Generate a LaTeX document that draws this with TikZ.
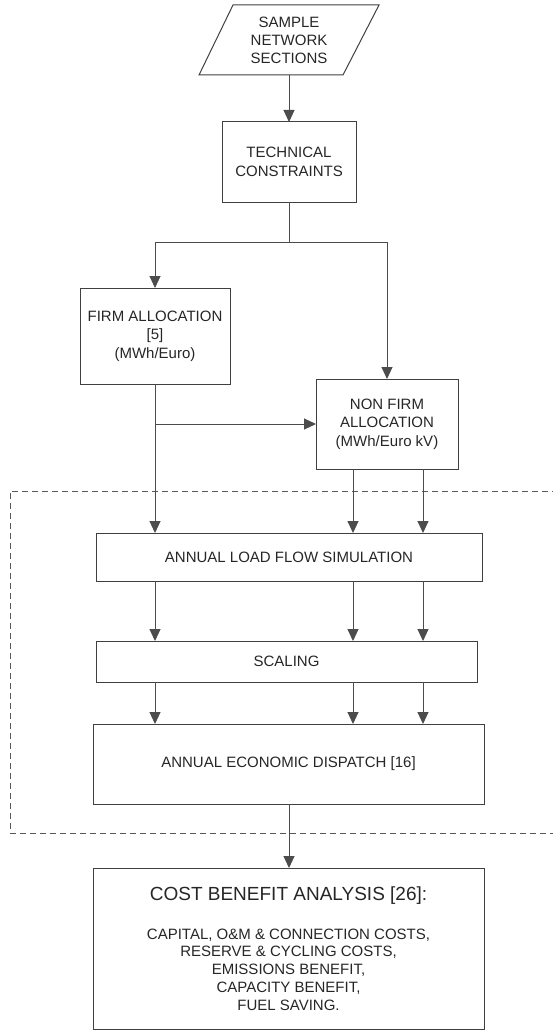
\documentclass[tikz,border=0pt]{standalone}
\usepackage{fontspec}
\setmainfont{Liberation Sans}
\usetikzlibrary{arrows.meta}
\begin{document}
\begin{tikzpicture}[x=1pt,y=-1pt,
  box/.style={draw=black!75, line width=1pt, rectangle, inner sep=0pt, outer sep=0pt,
    align=center, text=black!85, font=\fontsize{15}{18.5}\selectfont},
  plain/.style={rectangle, inner sep=0pt, outer sep=0pt, align=center, text=black!85,
    font=\fontsize{15}{18}\selectfont},
  conn/.style={draw=black!70, line width=1pt},
  arr/.style={conn, -{Triangle[length=12pt,width=11pt]}},
  frame/.style={draw=black!65, line width=1pt, dash pattern=on 6pt off 4pt}]
\useasboundingbox (0,0) rectangle (553,1030);

% dashed frame
\draw[frame] (558,491) -- (10,491) -- (10,833) -- (558,833);

% input parallelogram
\node[plain, minimum width=110pt, minimum height=70pt] (sns) at (289,40) {SAMPLE\\NETWORK\\SECTIONS};
\draw[draw=black!75, line width=1pt] (233,5) -- (379,5) -- (343,75) -- (199,75) -- cycle;

\node[box, minimum width=134pt, minimum height=80pt] (tc) at (289,162) {TECHNICAL\\CONSTRAINTS};
\node[box, minimum width=150pt, minimum height=96pt] (firm) at (155,336) {FIRM ALLOCATION\\{}[5]\\(MWh/Euro)};
\node[box, minimum width=142pt, minimum height=90pt] (nf) at (387,424) {NON FIRM\\ALLOCATION\\(MWh/Euro kV)};
\node[box, minimum width=386pt, minimum height=48pt] (alf) at (289,557) {ANNUAL LOAD FLOW SIMULATION};
\node[box, minimum width=381pt, minimum height=41pt] (sc) at (286.5,661.5) {SCALING};
\node[box, minimum width=391pt, minimum height=80pt] (aed) at (288.5,764) {ANNUAL ECONOMIC DISPATCH [16]};
\node[box, minimum width=391pt, minimum height=161pt, font=\fontsize{15}{17.7}\selectfont] (cba) at (288.5,948.5)
  {{\fontsize{19}{23}\selectfont COST BENEFIT ANALYSIS [26]:}\\[21pt]
   CAPITAL, O\&M \& CONNECTION COSTS,\\
   RESERVE \& CYCLING COSTS,\\
   EMISSIONS BENEFIT,\\
   CAPACITY BENEFIT,\\
   FUEL SAVING.};

% helper coordinates
\coordinate (split) at (289,242);
\coordinate (fork) at (155,424);
\coordinate (ca) at (155,0);
\coordinate (cb) at (353,0);
\coordinate (cc) at (423,0);

% connectors
\draw[arr] (sns.south) -- (tc.north);
\draw[conn] (tc.south) -- (split);
\draw[arr] (split) -| (firm.north);
\draw[arr] (split) -| (nf.north);
\draw[arr] (firm.south) -- (alf.north -| ca);
\draw[arr] (fork) -- (nf.west);
\draw[arr] (nf.south -| cb) -- (alf.north -| cb);
\draw[arr] (nf.south -| cc) -- (alf.north -| cc);
\foreach \c in {ca,cb,cc}{
  \draw[arr] (alf.south -| \c) -- (sc.north -| \c);
  \draw[arr] (sc.south -| \c) -- (aed.north -| \c);
}
\draw[arr] (aed.south -| split) -- (cba.north -| split);
\end{tikzpicture}
\end{document}
